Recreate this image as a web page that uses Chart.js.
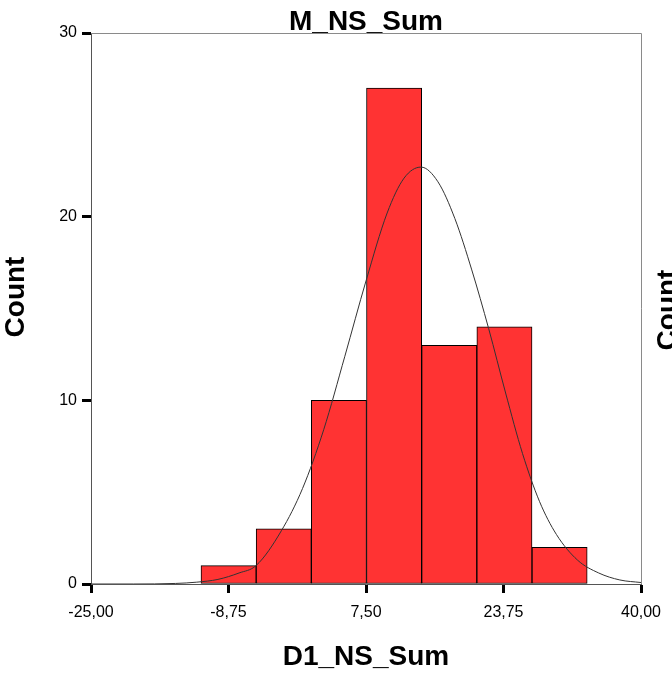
<!DOCTYPE html>
<html><head><meta charset="utf-8">
<script src="https://cdn.jsdelivr.net/npm/chart.js@4"></script>
<style>html,body{margin:0;padding:0;background:#fff}</style>
</head><body>
<canvas id="c" width="672" height="677"></canvas>
<script>
// ---- data ----
const chartTitle = 'M_NS_Sum';
const xAxisTitle = 'D1_NS_Sum';
const yAxisTitle = 'Count';
const neighbourTitle = 'Count';
const binEdges = [-12, -5.48, 1.04, 7.56, 14.08, 20.6, 27.12, 33.64];
const counts = [1, 3, 10, 27, 13, 14, 2];
const curveX = [-25, -20, -15, -12.5, -10, -7.5, -5.5, -2.5, 0, 2.5, 5, 7.5, 10, 12, 14, 16, 18, 20, 22, 24, 26, 28, 30, 32.5, 35, 37.5, 40];
const curveY = [0, 0, 0.03, 0.1, 0.25, 0.6, 1.0, 2.9, 5.2, 8.4, 12.4, 16.5, 20.2, 22.1, 22.7, 21.9, 19.9, 17.1, 13.9, 10.4, 7.1, 4.5, 2.7, 1.3, 0.6, 0.22, 0.08];
const xTickValues = [-25, -8.75, 7.5, 23.75, 40];
const xTickLabels = ['-25,00', '-8,75', '7,50', '23,75', '40,00'];
const yTickValues = [0, 10, 20, 30];
const yTickLabels = ['0', '10', '20', '30'];

const FAMILY = "'Liberation Sans', Arial, sans-serif";
const barData = counts.map((c, i) => ({ x: (binEdges[i] + binEdges[i + 1]) / 2, y: c }));
const curveData = curveX.map((x, i) => ({ x: x, y: curveY[i] }));

const framePlugin = {
  id: 'frame',
  afterDatasetsDraw(chart) {
    const { ctx, chartArea: a } = chart;
    ctx.save();
    ctx.strokeStyle = '#8a8a8a';
    ctx.lineWidth = 1;
    ctx.beginPath();
    ctx.moveTo(a.left, Math.round(a.top) + 0.5);
    ctx.lineTo(Math.round(a.right) + 0.5, Math.round(a.top) + 0.5);
    ctx.lineTo(Math.round(a.right) + 0.5, a.bottom);
    ctx.stroke();
    ctx.restore();
  },
  afterDraw(chart) {
    const { ctx } = chart;
    ctx.save();
    ctx.font = "bold 28px " + FAMILY;
    ctx.fillStyle = '#000';
    ctx.textAlign = 'center';
    ctx.textBaseline = 'middle';
    // y-axis title
    ctx.save();
    ctx.translate(16, 297);
    ctx.rotate(-Math.PI / 2);
    ctx.fillText(yAxisTitle, 0, 0);
    ctx.restore();
    // neighbouring panel's axis title, cut at the right edge
    ctx.save();
    ctx.translate(668, 310);
    ctx.rotate(-Math.PI / 2);
    ctx.fillText(neighbourTitle, 0, 0);
    ctx.restore();
    ctx.restore();
  }
};

Chart.defaults.color = '#000';
new Chart(document.getElementById('c'), {
  type: 'bar',
  data: {
    datasets: [
      {
        type: 'line',
        data: curveData,
        borderColor: '#333333',
        borderWidth: 1,
        pointRadius: 0,
        fill: false,
        cubicInterpolationMode: 'monotone',
        order: 0
      },
      {
        type: 'bar',
        data: barData,
        backgroundColor: '#ff3333',
        borderColor: '#000000',
        borderWidth: 1,
        borderSkipped: false,
        barPercentage: 1,
        categoryPercentage: 1,
        order: 1
      }
    ]
  },
  options: {
    responsive: false,
    devicePixelRatio: 1,
    animation: false,
    layout: { padding: { left: 0, right: 31, top: 0, bottom: 0 } },
    plugins: {
      legend: { display: false },
      tooltip: { enabled: false },
      title: {
        display: true,
        text: chartTitle,
        fullSize: false,
        font: { family: FAMILY, size: 28, weight: 'bold', lineHeight: 0.786 },
        color: '#000',
        padding: { top: 11, bottom: 0 }
      }
    },
    scales: {
      x: {
        type: 'linear',
        min: -25,
        max: 40,
        offset: false,
        afterFit(s) { s.height = 93; },
        afterBuildTicks(s) { s.ticks = xTickValues.map(v => ({ value: v })); },
        ticks: {
          autoSkip: false,
          maxRotation: 0,
          padding: 10,
          font: { family: FAMILY, size: 16 },
          callback: (v, i) => xTickLabels[i]
        },
        grid: { offset: false, drawOnChartArea: false, drawTicks: true, tickLength: 9, tickWidth: 3, tickColor: '#000' },
        border: { display: true, color: '#555', width: 1 },
        title: {
          display: true,
          text: xAxisTitle,
          font: { family: FAMILY, size: 28, weight: 'bold', lineHeight: 1 },
          padding: { top: 0, bottom: 6 }
        }
      },
      y: {
        type: 'linear',
        min: 0,
        max: 30,
        afterFit(s) { s.width = 91; },
        afterBuildTicks(s) { s.ticks = yTickValues.map(v => ({ value: v })); },
        ticks: {
          padding: 5,
          font: { family: FAMILY, size: 16 },
          callback: (v, i) => yTickLabels[i]
        },
        grid: { offset: false, drawOnChartArea: false, drawTicks: true, tickLength: 9, tickWidth: 3, tickColor: '#000' },
        border: { display: true, color: '#555', width: 1 },
        title: { display: false }
      }
    }
  },
  plugins: [framePlugin]
});
</script>
</body></html>
